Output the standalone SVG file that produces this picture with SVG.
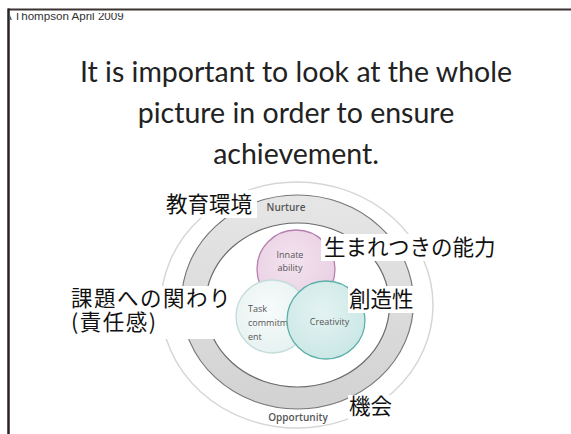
<svg xmlns="http://www.w3.org/2000/svg" width="571" height="434" viewBox="0 0 571 434">
  <defs>
    <style>
      .title { font-family: Lato, "Open Sans", sans-serif; font-size: 28.5px; fill: #222; text-anchor: middle; }
      .small { font-family: "Open Sans", Lato, sans-serif; font-size: 9px; fill: #555; }
      .ring-label { font-family: "Open Sans", Lato, sans-serif; font-size: 10px; fill: #555; font-weight: 600; text-anchor: middle; }
      .jp { font-family: "Noto Sans CJK JP", "Noto Sans CJK SC", sans-serif; font-size: 21.5px; fill: #111; }
      .box { fill: #fff; }
      .header { font-family: "Liberation Sans", Arial, sans-serif; font-size: 11.6px; fill: #333; }
    </style>
    <linearGradient id="bandGrad" x1="0" y1="0" x2="0" y2="1">
      <stop offset="0" stop-color="#e6e6e6"/>
      <stop offset="1" stop-color="#d2d2d2"/>
    </linearGradient>
    <radialGradient id="taskGrad" cx="0.45" cy="0.4" r="0.6">
      <stop offset="0" stop-color="#f8fbfb"/>
      <stop offset="1" stop-color="#e6f2f1"/>
    </radialGradient>
    <radialGradient id="creaGrad" cx="0.45" cy="0.4" r="0.6">
      <stop offset="0" stop-color="#e4f3f2"/>
      <stop offset="1" stop-color="#cbe8e6"/>
    </radialGradient>
    <radialGradient id="innGrad" cx="0.45" cy="0.4" r="0.6">
      <stop offset="0" stop-color="#f3e3ef"/>
      <stop offset="1" stop-color="#e9d0e3"/>
    </radialGradient>
    <clipPath id="headerClip">
      <rect x="10" y="13" width="200" height="10"/>
    </clipPath>
  </defs>

  <rect x="0" y="0" width="571" height="434" fill="#fff"/>

  <!-- slide frame -->
  <g id="frame">
    <line x1="8" y1="9.5" x2="571" y2="9.5" stroke="#3b3331" stroke-width="2"/>
    <line x1="8.5" y1="8.5" x2="8.5" y2="434" stroke="#2a2222" stroke-width="2.5"/>
    <text class="header" x="4" y="19.5" clip-path="url(#headerClip)">A Thompson April 2009</text>
  </g>

  <!-- title -->
  <g id="title">
    <text class="title" x="296" y="82">It is important to look at the whole</text>
    <text class="title" x="296" y="123">picture in order to ensure</text>
    <text class="title" x="296" y="164">achievement.</text>
  </g>

  <!-- outer faint circle -->
  <g id="outer-circle">
    <ellipse cx="297" cy="305" rx="136" ry="123" fill="#fff" stroke="#d6d6d6" stroke-width="1.5"/>
  </g>

  <!-- gray ring (Nurture / Opportunity) -->
  <g id="ring">
    <path d="M181.5,302 a116,107 0 1,0 232,0 a116,107 0 1,0 -232,0 Z M205.5,305 a92,82 0 1,0 184,0 a92,82 0 1,0 -184,0 Z" fill="url(#bandGrad)" fill-rule="evenodd"/>
    <ellipse cx="297.5" cy="302" rx="116" ry="107" fill="none" stroke="#777" stroke-width="1.2"/>
    <ellipse cx="297.5" cy="305" rx="92" ry="82" fill="none" stroke="#6a6a6a" stroke-width="1.2"/>
    <text class="ring-label" x="286" y="211">Nurture</text>
    <text class="ring-label" x="298" y="421">Opportunity</text>
  </g>

  <!-- Innate ability -->
  <g id="innate">
    <circle cx="296" cy="269" r="39" fill="url(#innGrad)" stroke="#b77fae" stroke-width="1.3"/>
    <text class="small" x="290" y="258" text-anchor="middle">Innate</text>
    <text class="small" x="290" y="271" text-anchor="middle">ability</text>
  </g>

  <!-- Task commitment -->
  <g id="task">
    <circle cx="272.5" cy="316.5" r="36.5" fill="url(#taskGrad)" stroke="#c2dcdb" stroke-width="1.3"/>
    <text class="small" x="248" y="312">Task</text>
    <text class="small" x="248" y="326">commitm</text>
    <text class="small" x="248" y="340">ent</text>
  </g>

  <!-- Creativity -->
  <g id="creativity">
    <circle cx="326" cy="320" r="39" fill="url(#creaGrad)" stroke="#5fb0aa" stroke-width="1.3"/>
    <text class="small" x="329.5" y="325" text-anchor="middle">Creativity</text>
  </g>

  <!-- Japanese annotations -->
  <g id="label-nurture-jp">
    <rect class="box" x="163" y="190" width="94" height="28"/>
    <text class="jp" x="166" y="211.5">教育環境</text>
  </g>
  <g id="label-innate-jp">
    <rect class="box" x="321" y="234" width="180" height="27"/>
    <text class="jp" x="324" y="255">生まれつきの能力</text>
  </g>
  <g id="label-task-jp">
    <rect class="box" x="60" y="286" width="174" height="53"/>
    <text class="jp" letter-spacing="1.5"><tspan x="71" y="306">課題への関わり</tspan><tspan x="71" y="330">(責任感)</tspan></text>
  </g>
  <g id="label-creativity-jp">
    <rect class="box" x="348" y="286" width="67" height="27"/>
    <text class="jp" x="349" y="306.5">創造性</text>
  </g>
  <g id="label-opportunity-jp">
    <rect class="box" x="348" y="395" width="46" height="26"/>
    <text class="jp" x="349" y="413.5">機会</text>
  </g>
</svg>
